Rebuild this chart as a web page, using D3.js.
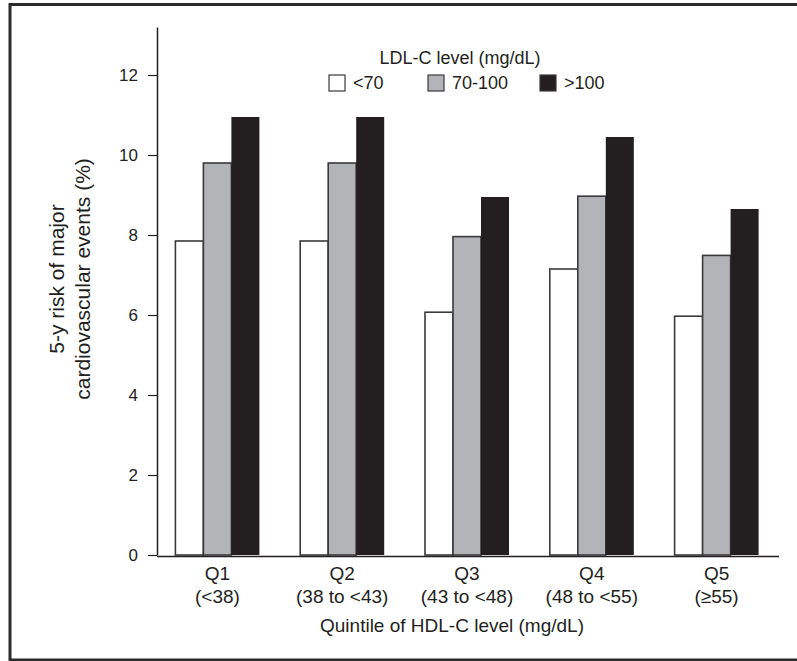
<!DOCTYPE html>
<html>
<head>
<meta charset="utf-8">
<script src="https://cdn.jsdelivr.net/npm/d3@7"></script>
<style>
  body { margin: 0; background: #fff; }
  text { fill: #231f20; }
</style>
</head>
<body>
<div id="chart"></div>
<script>
// quintiles of HDL-C
var quintiles = ["Q1", "Q2", "Q3", "Q4", "Q5"];
var quintileRanges = ["(<38)", "(38 to <43)", "(43 to <48)", "(48 to <55)", "(\u226555)"];
// LDL-C groups
var ldlGroups = ["<70", "70-100", ">100"];
var ldlColors = ["#ffffff", "#b3b4b8", "#231f20"];
// 5-y risk (%) per quintile, one array per LDL-C group
var riskLow = [7.85, 7.85, 6.07, 7.15, 5.97];
var riskMid = [9.8, 9.8, 7.96, 8.97, 7.49];
var riskHigh = [10.95, 10.95, 8.95, 10.45, 8.65];
var yTicks = [0, 2, 4, 6, 8, 10, 12];

var series = [riskLow, riskMid, riskHigh];

var width = 797, height = 661;

var svg = d3.select("#chart").append("svg")
  .attr("width", width)
  .attr("height", height);

// frame around the figure
svg.append("rect")
  .attr("x", 10).attr("y", 4.5)
  .attr("width", 800).attr("height", 655.5)
  .attr("fill", "none")
  .attr("stroke", "#2b2b2b")
  .attr("stroke-width", 3);

var axisX = 157;

var y = d3.scaleLinear()
  .domain([0, 13.2])
  .range([555, 27]);

var x = d3.scaleBand()
  .domain(quintiles)
  .range([155, 779])
  .padding(0);

var xSub = d3.scaleBand()
  .domain(d3.range(ldlGroups.length))
  .range([-42, 42])
  .padding(0);

// bars
var groups = svg.selectAll("g.quintile")
  .data(quintiles)
  .enter().append("g")
  .attr("class", "quintile")
  .attr("transform", function(d) { return "translate(" + (x(d) + x.bandwidth() / 2) + ",0)"; });

groups.selectAll("rect")
  .data(function(d, i) { return series.map(function(s, k) { return {k: k, v: s[i]}; }); })
  .enter().append("rect")
  .attr("x", function(d) { return xSub(d.k); })
  .attr("y", function(d) { return y(d.v); })
  .attr("width", xSub.bandwidth())
  .attr("height", function(d) { return y(0) - y(d.v); })
  .attr("fill", function(d) { return ldlColors[d.k]; })
  .attr("stroke", function(d) { return d.k == 2 ? "none" : "#3a3a3a"; })
  .attr("stroke-width", 1.6);

// y axis
var yAxis = svg.append("g")
  .attr("transform", "translate(" + axisX + ",0)")
  .call(d3.axisLeft(y).tickValues(yTicks).tickSize(9).tickSizeOuter(0).tickPadding(10));
yAxis.select(".domain").attr("stroke", "#231f20").attr("stroke-width", 1.5);
yAxis.selectAll(".tick line").attr("stroke", "#231f20").attr("stroke-width", 1.2);
yAxis.selectAll(".tick text")
  .style("font-family", "'Liberation Sans', Arial, sans-serif")
  .style("font-size", "17px")
  .attr("fill", "#231f20");

// x axis line
svg.append("line")
  .attr("x1", axisX).attr("x2", x.range()[1])
  .attr("y1", y(0) + 1.5).attr("y2", y(0) + 1.5)
  .attr("stroke", "#231f20")
  .attr("stroke-width", 1.5);

var labelFont = "'Liberation Sans Narrow', 'Arial Narrow', sans-serif";

// x tick labels (two lines)
var xl = svg.selectAll("text.xlab")
  .data(quintiles)
  .enter().append("text")
  .attr("class", "xlab")
  .attr("text-anchor", "middle")
  .style("font-family", labelFont)
  .style("font-size", "19px");
xl.append("tspan")
  .attr("x", function(d) { return x(d) + x.bandwidth() / 2; })
  .attr("y", 580)
  .text(function(d) { return d; });
xl.append("tspan")
  .attr("x", function(d) { return x(d) + x.bandwidth() / 2; })
  .attr("y", 603)
  .text(function(d, i) { return quintileRanges[i]; });

// axis titles
svg.append("text")
  .attr("x", 452).attr("y", 632)
  .attr("text-anchor", "middle")
  .style("font-family", labelFont)
  .style("font-size", "19px")
  .text("Quintile of HDL-C level (mg/dL)");

var yt = svg.append("text")
  .attr("transform", "translate(0,279) rotate(-90)")
  .attr("text-anchor", "middle")
  .style("font-family", labelFont)
  .style("font-size", "21px");
yt.append("tspan").attr("x", 0).attr("y", 64).text("5-y risk of major");
yt.append("tspan").attr("x", 0).attr("y", 90).text("cardiovascular events (%)");

// legend
svg.append("text")
  .attr("x", 460).attr("y", 64)
  .attr("text-anchor", "middle")
  .style("font-family", labelFont)
  .style("font-size", "18px")
  .text("LDL-C level (mg/dL)");

var legendX = [329, 428, 540];
var leg = svg.selectAll("g.legend")
  .data(ldlGroups)
  .enter().append("g")
  .attr("class", "legend")
  .attr("transform", function(d, i) { return "translate(" + legendX[i] + ",75)"; });
leg.append("rect")
  .attr("width", 16).attr("height", 16)
  .attr("fill", function(d, i) { return ldlColors[i]; })
  .attr("stroke", "#3a3a3a")
  .attr("stroke-width", 1.2);
leg.append("text")
  .attr("x", 24).attr("y", 14)
  .style("font-family", labelFont)
  .style("font-size", "18px")
  .text(function(d) { return d; });
</script>
</body>
</html>
